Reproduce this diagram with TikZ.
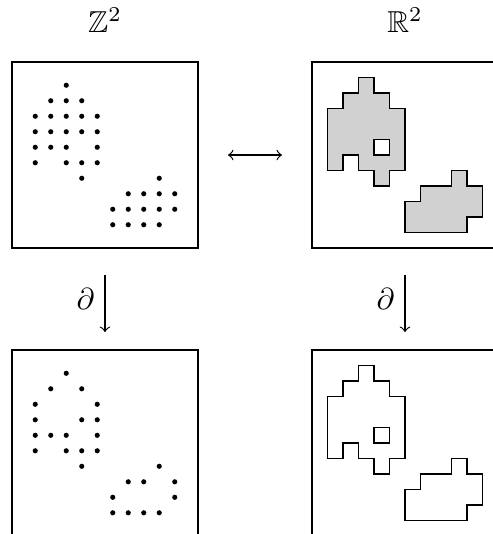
\documentclass[tikz,border=0pt]{standalone}
\usepackage{amsmath,amssymb}
\usetikzlibrary{positioning}

% outlines of the two blobs, in cell units from a panel's top left corner
\newcommand{\blobs}{%
  (3,1) -- (4,1) -- (4,2) -- (5,2) -- (5,3) -- (6,3) -- (6,7) -- (5,7)
  -- (5,8) -- (4,8) -- (4,7) -- (3,7) -- (3,6) -- (2,6) -- (2,7) -- (1,7)
  -- (1,3) -- (2,3) -- (2,2) -- (3,2) -- cycle
  (4,5) rectangle (5,6)
  (9,7) -- (10,7) -- (10,8) -- (11,8) -- (11,10) -- (10,10) -- (10,11)
  -- (6,11) -- (6,9) -- (7,9) -- (7,8) -- (9,8) -- cycle}

\begin{document}
\begin{tikzpicture}[
  x = 0.18cm, y = -0.18cm,
  node distance = 1.185cm and 1.324cm,
  panel/.style  = {draw, minimum size=2.16cm, inner sep=0pt, outer sep=0pt},
  region/.style = {draw, fill=black!18, even odd rule},
  arr/.style    = {->},
  dbl/.style    = {<->}
]
\useasboundingbox (0,0) rectangle (31.806,34.452);
\clip (0,0) rectangle (31.806,34.452);
% panels
\node[panel] (Zt) at (6.774,10) {};
\node[panel, right=of Zt] (Rt) {};
\node[panel, below=of Zt] (Zb) {};
\node[panel, below=of Rt] (Rb) {};
% labels above
\node[above=6.2pt of Zt] (Zlab) {$\mathbb{Z}^2$};
\node[above=6.2pt of Rt] (Rlab) {$\mathbb{R}^2$};
% lattice sets
\begin{scope}[shift={(Zt.north west)}]
  \foreach \r/\cs in {0/{2}, 1/{1,2,3}, 2/{0,1,2,3,4}, 3/{0,1,2,3,4},
      4/{0,1,2,4}, 5/{0,2,3,4}, 6/{3,8}, 7/{6,7,8,9}, 8/{5,6,7,8,9},
      9/{5,6,7,8}}
    \foreach \c in \cs
      \fill (1.5+\c,1.5+\r) circle[radius=0.85pt];
\end{scope}
\begin{scope}[shift={(Zb.north west)}]
  \foreach \r/\cs in {0/{2}, 1/{1,3}, 2/{0,4}, 3/{0,3,4}, 4/{0,1,2,4},
      5/{0,2,3,4}, 6/{3,8}, 7/{6,7,9}, 8/{5,9}, 9/{5,6,7,8}}
    \foreach \c in \cs
      \fill (1.5+\c,1.5+\r) circle[radius=0.85pt];
\end{scope}
% regions
\begin{scope}[shift={(Rt.north west)}]
  \path[region] \blobs;
\end{scope}
\begin{scope}[shift={(Rb.north west)}]
  \draw \blobs;
\end{scope}
% arrows
\draw[dbl, shorten <=0.348cm, shorten >=0.348cm] (Zt) -- (Rt);
\draw[arr, shorten <=0.313cm, shorten >=0.209cm] (Zt)
  -- node[left] {$\partial$} (Zb);
\draw[arr, shorten <=0.313cm, shorten >=0.209cm] (Rt)
  -- node[left] {$\partial$} (Rb);
\end{tikzpicture}
\end{document}
